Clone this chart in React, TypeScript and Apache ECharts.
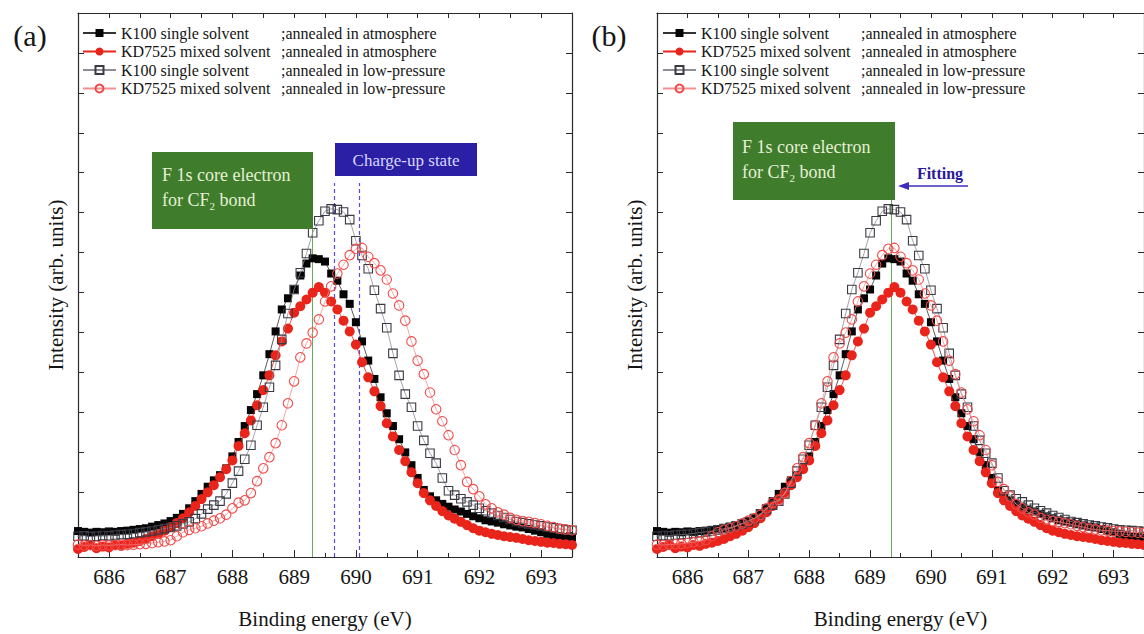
import React, { useEffect, useRef } from "react";
import * as echarts from "echarts";

const SERIF = '"Liberation Serif", "Times New Roman", serif';

// Binding energy grid (eV)
const energy = [
  685.3, 685.4, 685.5, 685.6, 685.7, 685.8, 685.9, 686.0, 686.1, 686.2,
  686.3, 686.4, 686.5, 686.6, 686.7, 686.8, 686.9, 687.0, 687.1, 687.2,
  687.3, 687.4, 687.5, 687.6, 687.7, 687.8, 687.9, 688.0, 688.1, 688.2,
  688.3, 688.4, 688.5, 688.6, 688.7, 688.8, 688.9, 689.0, 689.1, 689.2,
  689.3, 689.4, 689.5, 689.6, 689.7, 689.8, 689.9, 690.0, 690.1, 690.2,
  690.3, 690.4, 690.5, 690.6, 690.7, 690.8, 690.9, 691.0, 691.1, 691.2,
  691.3, 691.4, 691.5, 691.6, 691.7, 691.8, 691.9, 692.0, 692.1, 692.2,
  692.3, 692.4, 692.5, 692.6, 692.7, 692.8, 692.9, 693.0, 693.1, 693.2,
  693.3, 693.4, 693.5, 693.6, 693.7, 693.8, 693.9, 694.0, 694.1, 694.2,
];

// K100 single solvent ; annealed in atmosphere
const k100Atm = [
  0.64, 0.62, 0.65, 0.63, 0.61, 0.63, 0.62, 0.64, 0.63, 0.65,
  0.66, 0.68, 0.70, 0.72, 0.76, 0.80, 0.84, 0.90, 0.98, 1.08,
  1.22, 1.40, 1.58, 1.76, 1.92, 2.05, 2.22, 2.52, 2.88, 3.28,
  3.68, 4.08, 4.55, 5.08, 5.65, 6.20, 6.48, 6.70, 7.05, 7.35,
  7.48, 7.46, 7.40, 7.10, 6.92, 6.58, 6.34, 5.88, 5.40, 4.92,
  4.46, 4.00, 3.60, 3.28, 2.95, 2.62, 2.30, 1.98, 1.68, 1.52,
  1.42, 1.33, 1.26, 1.19, 1.14, 1.08, 1.02, 0.97, 0.92, 0.89,
  0.86, 0.82, 0.79, 0.76, 0.74, 0.70, 0.66, 0.62, 0.58, 0.55,
  0.52, 0.50, 0.49, 0.48, 0.47, 0.46, 0.46, 0.45, 0.45, 0.44,
];

// KD7525 mixed solvent ; annealed in atmosphere
const kd7525Atm = [
  0.22, 0.28, 0.20, 0.25, 0.30, 0.22, 0.26, 0.24, 0.30, 0.28,
  0.33, 0.36, 0.40, 0.45, 0.52, 0.58, 0.66, 0.75, 0.85, 0.97,
  1.12, 1.28, 1.45, 1.62, 1.80, 2.00, 2.20, 2.42, 2.78, 3.10,
  3.42, 3.80, 4.18, 4.55, 5.05, 5.40, 5.72, 6.12, 6.28, 6.45,
  6.62, 6.76, 6.62, 6.40, 6.20, 5.92, 5.65, 5.32, 4.88, 4.50,
  4.15, 3.78, 3.35, 3.02, 2.68, 2.40, 2.12, 1.85, 1.60, 1.42,
  1.28, 1.15, 1.04, 0.96, 0.88, 0.80, 0.72, 0.66, 0.62, 0.58,
  0.55, 0.52, 0.50, 0.48, 0.45, 0.42, 0.40, 0.38, 0.36, 0.35,
  0.33, 0.32, 0.30, 0.30, 0.29, 0.29, 0.28, 0.28, 0.27, 0.27,
];

// K100 single solvent ; annealed in low-pressure
const k100Low = [
  0.52, 0.54, 0.52, 0.53, 0.51, 0.52, 0.54, 0.53, 0.55, 0.56,
  0.57, 0.59, 0.61, 0.63, 0.65, 0.68, 0.71, 0.74, 0.78, 0.83,
  0.88, 0.96, 1.08, 1.20, 1.30, 1.40, 1.58, 1.85, 2.15, 2.45,
  2.80, 3.30, 3.75, 4.25, 4.80, 5.45, 6.10, 6.70, 7.12, 7.60,
  8.12, 8.42, 8.66, 8.72, 8.70, 8.64, 8.45, 7.92, 7.55, 7.22,
  6.68, 6.22, 5.74, 5.10, 4.55, 4.08, 3.75, 3.28, 2.92, 2.60,
  2.35, 1.98, 1.66, 1.55, 1.46, 1.38, 1.30, 1.22, 1.16, 1.10,
  1.04, 0.99, 0.94, 0.89, 0.86, 0.83, 0.80, 0.78, 0.75, 0.73,
  0.70, 0.68, 0.67, 0.66, 0.65, 0.64, 0.63, 0.62, 0.62, 0.61,
];

// KD7525 mixed solvent ; annealed in low-pressure
const kd7525Low = [
  0.30, 0.28, 0.31, 0.29, 0.30, 0.28, 0.30, 0.29, 0.30, 0.31,
  0.30, 0.31, 0.32, 0.33, 0.35, 0.37, 0.39, 0.42, 0.52, 0.62,
  0.68, 0.72, 0.77, 0.84, 0.91, 0.97, 1.06, 1.22, 1.36, 1.42,
  1.60, 1.90, 2.22, 2.50, 2.85, 3.30, 3.85, 4.40, 5.00, 5.35,
  5.62, 5.95, 6.40, 6.78, 7.10, 7.32, 7.56, 7.72, 7.74, 7.52,
  7.36, 7.18, 6.95, 6.60, 6.30, 5.92, 5.40, 4.92, 4.58, 4.12,
  3.70, 3.40, 3.05, 2.68, 2.30, 1.88, 1.70, 1.52, 1.32, 1.22,
  1.12, 1.06, 0.98, 0.93, 0.90, 0.88, 0.85, 0.82, 0.78, 0.75,
  0.71, 0.69, 0.67, 0.66, 0.65, 0.64, 0.63, 0.62, 0.61, 0.60,
];

const seriesNames = [
  "K100 single solvent ;annealed in atmosphere",
  "KD7525 mixed solvent ;annealed in atmosphere",
  "K100 single solvent ;annealed in low-pressure",
  "KD7525 mixed solvent ;annealed in low-pressure",
];

// energy correction applied in panel (b) ("Fitting")
const fittingShift = [0, 0, -0.3, -0.7];

const xTickLabels = [686, 687, 688, 689, 690, 691, 692, 693];
const xMinorTicks = [686.5, 687.5, 688.5, 689.5, 690.5, 691.5, 692.5];
const xTopTicks = [686, 686.5, 687, 687.5, 688, 688.5, 689, 689.5, 690, 690.5, 691, 691.5, 692, 692.5, 693];
const yTicks = [0.625, 1.625, 2.625, 3.625, 4.625, 5.625, 6.625, 7.625, 8.625, 9.625, 10.625, 11.625, 12.625];

const X_MIN = 685.5;
const X_MAX = 693.5;
const Y_MIN = 0;
const Y_MAX = 13.625;

const cf2LineA = 689.3;
const cf2LineATop = 8.22;
const chargeUpLines = [689.65, 690.05];
const chargeUpTop = 9.37;
const cf2LineB = 689.35;
const cf2LineBTop = 8.95;

const seriesValues = [k100Atm, kd7525Atm, k100Low, kd7525Low];
const seriesStyles = [
  { symbol: "rect", size: 8, fill: "#050505", border: "#050505", bw: 0, line: "#333333" },
  { symbol: "circle", size: 10, fill: "#e8241b", border: "#e8241b", bw: 0, line: "#e8241b" },
  { symbol: "rect", size: 8.5, fill: "rgba(255,255,255,0)", border: "#3a3a44", bw: 1.1, line: "#8d8d96" },
  { symbol: "circle", size: 9.5, fill: "rgba(255,255,255,0)", border: "#f04a4a", bw: 1.1, line: "#f39090" },
];

const AXIS_COLOR = "#2a2a2a";
const TEXT_COLOR = "#151515";

function makeSeries(panel: number) {
  return seriesValues.map((vals, i) => {
    const st = seriesStyles[i];
    const shift = panel === 1 ? fittingShift[i] : 0;
    const s: any = {
      type: "line",
      name: seriesNames[i],
      xAxisIndex: panel * 3,
      yAxisIndex: panel * 2,
      data: energy.map((e, j) => [Math.round((e + shift) * 100) / 100, vals[j]]),
      symbol: st.symbol,
      symbolSize: st.size,
      showSymbol: true,
      showAllSymbol: true,
      clip: true,
      z: 3 + i,
      itemStyle: { color: st.fill, borderColor: st.border, borderWidth: st.bw },
      lineStyle: { color: st.line, width: 0.8 },
      emphasis: { disabled: true },
    };
    if (i === 0) {
      const lines: any[] =
        panel === 0
          ? [
              [
                { coord: [cf2LineA, Y_MIN], lineStyle: { color: "#6aa85a", width: 1, type: "solid" } },
                { coord: [cf2LineA, cf2LineATop] },
              ],
              ...chargeUpLines.map((x) => [
                { coord: [x, Y_MIN], lineStyle: { color: "#5a4ae0", width: 1.2, type: [4, 3] } },
                { coord: [x, chargeUpTop] },
              ]),
            ]
          : [
              [
                { coord: [cf2LineB, Y_MIN], lineStyle: { color: "#6aa85a", width: 1, type: "solid" } },
                { coord: [cf2LineB, cf2LineBTop] },
              ],
            ];
      s.markLine = { silent: true, symbol: "none", label: { show: false }, data: lines, z: 2 };
    }
    return s;
  });
}

function makeXAxes(panel: number) {
  return [
    {
      type: "value",
      gridIndex: panel,
      position: "bottom",
      min: X_MIN,
      max: X_MAX,
      name: "Binding energy (eV)",
      nameLocation: "middle",
      nameGap: 51,
      nameTextStyle: { fontFamily: SERIF, fontSize: 21, color: TEXT_COLOR },
      axisLine: { show: true, onZero: false, lineStyle: { color: AXIS_COLOR, width: 1.2 } },
      axisTick: { show: true, inside: true, length: 7, customValues: xTickLabels, lineStyle: { color: AXIS_COLOR } },
      axisLabel: { show: true, customValues: xTickLabels, margin: 9, fontFamily: SERIF, fontSize: 21, color: TEXT_COLOR },
      splitLine: { show: false },
    },
    {
      type: "value",
      gridIndex: panel,
      position: "bottom",
      min: X_MIN,
      max: X_MAX,
      axisLine: { show: false, onZero: false },
      axisTick: { show: true, inside: true, length: 4, customValues: xMinorTicks, lineStyle: { color: AXIS_COLOR } },
      axisLabel: { show: false },
      splitLine: { show: false },
    },
    {
      type: "value",
      gridIndex: panel,
      position: "top",
      min: X_MIN,
      max: X_MAX,
      axisLine: { show: true, onZero: false, lineStyle: { color: AXIS_COLOR, width: 1.2 } },
      axisTick: { show: true, inside: true, length: 5, customValues: xTopTicks, lineStyle: { color: AXIS_COLOR } },
      axisLabel: { show: false },
      splitLine: { show: false },
    },
  ];
}

function makeYAxes(panel: number) {
  return [
    {
      type: "value",
      gridIndex: panel,
      position: "left",
      min: Y_MIN,
      max: Y_MAX,
      name: "Intensity (arb. units)",
      nameLocation: "middle",
      nameGap: 12,
      nameTextStyle: { fontFamily: SERIF, fontSize: 21, color: TEXT_COLOR },
      axisLine: { show: true, onZero: false, lineStyle: { color: AXIS_COLOR, width: 1.2 } },
      axisTick: { show: true, inside: true, length: 6, customValues: yTicks, lineStyle: { color: AXIS_COLOR } },
      axisLabel: { show: false },
      splitLine: { show: false },
    },
    {
      type: "value",
      gridIndex: panel,
      position: "right",
      min: Y_MIN,
      max: Y_MAX,
      axisLine: { show: true, onZero: false, lineStyle: { color: AXIS_COLOR, width: 1.2 } },
      axisTick: { show: true, inside: true, length: 6, customValues: yTicks, lineStyle: { color: AXIS_COLOR } },
      axisLabel: { show: false },
      splitLine: { show: false },
    },
  ];
}

function makeLegend(left: number) {
  const txt = { fontFamily: SERIF, fontSize: 16, color: TEXT_COLOR, lineHeight: 16 };
  return {
    orient: "vertical",
    left,
    top: 20,
    itemWidth: 33,
    itemHeight: 10,
    itemGap: 2.5,
    selectedMode: false,
    data: seriesNames,
    textStyle: { ...txt, rich: { a: { ...txt, width: 160 }, b: { ...txt } } },
    formatter: (n: string) => {
      const k = n.indexOf(";");
      return `{a|${n.slice(0, k).trim()}}{b|${n.slice(k)}}`;
    },
  };
}

function labelBox(x: number, y: number, w: number, h: number, tx: number, ty: number) {
  const pale = "#e6f0d6";
  return [
    { type: "rect", z: 20, shape: { x, y, width: w, height: h }, style: { fill: "#3f7d2c" } },
    {
      type: "text",
      z: 21,
      x: tx,
      y: ty,
      style: { text: "F 1s core electron", fontFamily: SERIF, fontSize: 18, fill: pale, align: "left", verticalAlign: "middle" },
    },
    {
      type: "text",
      z: 21,
      x: tx,
      y: ty + 25,
      style: {
        text: "{t|for CF}{s|2}{t| bond}",
        align: "left",
        verticalAlign: "middle",
        rich: {
          t: { fontFamily: SERIF, fontSize: 18, fill: pale, color: pale, lineHeight: 22 },
          s: { fontFamily: SERIF, fontSize: 11, fill: pale, color: pale, padding: [12, 0, 0, 0] },
        },
      },
    },
  ];
}

const option: any = {
  animation: false,
  backgroundColor: "#ffffff",
  grid: [
    { left: 78, top: 13, width: 494, height: 545, containLabel: false },
    { left: 657, top: 13, width: 494, height: 545, containLabel: false },
  ],
  xAxis: [...makeXAxes(0), ...makeXAxes(1)],
  yAxis: [...makeYAxes(0), ...makeYAxes(1)],
  legend: [makeLegend(77), makeLegend(657)],
  series: [...makeSeries(0), ...makeSeries(1)],
  graphic: [
    { type: "text", z: 30, x: 30, y: 35, style: { text: "(a)", fontFamily: SERIF, fontSize: 30, fill: TEXT_COLOR, align: "center", verticalAlign: "middle" } },
    { type: "text", z: 30, x: 609, y: 35, style: { text: "(b)", fontFamily: SERIF, fontSize: 30, fill: TEXT_COLOR, align: "center", verticalAlign: "middle" } },
    ...labelBox(152, 152, 161, 77, 162, 175),
    { type: "rect", z: 20, shape: { x: 335, y: 143, width: 142, height: 33 }, style: { fill: "#2b1fa6" } },
    {
      type: "text",
      z: 21,
      x: 406,
      y: 160,
      style: { text: "Charge-up state", fontFamily: SERIF, fontSize: 17, fill: "#d6d6ff", align: "center", verticalAlign: "middle" },
    },
    ...labelBox(733, 122, 162, 78, 742, 147),
    {
      type: "text",
      z: 21,
      x: 940,
      y: 173,
      style: { text: "Fitting", fontFamily: SERIF, fontSize: 16, fontWeight: "bold", fill: "#2a1a9a", align: "center", verticalAlign: "middle" },
    },
    { type: "line", z: 21, shape: { x1: 904, y1: 186, x2: 968, y2: 186 }, style: { stroke: "#3c2cc0", lineWidth: 1.5 } },
    { type: "polygon", z: 21, shape: { points: [[898, 186], [909, 182], [909, 190]] }, style: { fill: "#3c2cc0" } },
  ],
};

export default function App() {
  const ref = useRef<HTMLDivElement>(null);
  useEffect(() => {
    if (!ref.current) return;
    const chart = echarts.init(ref.current, null, { renderer: "svg" });
    chart.setOption(option);
    return () => chart.dispose();
  }, []);
  return (
    <div
      ref={ref}
      style={{ position: "absolute", left: 0, top: 0, width: 1144, height: 634, background: "#fff" }}
    />
  );
}
